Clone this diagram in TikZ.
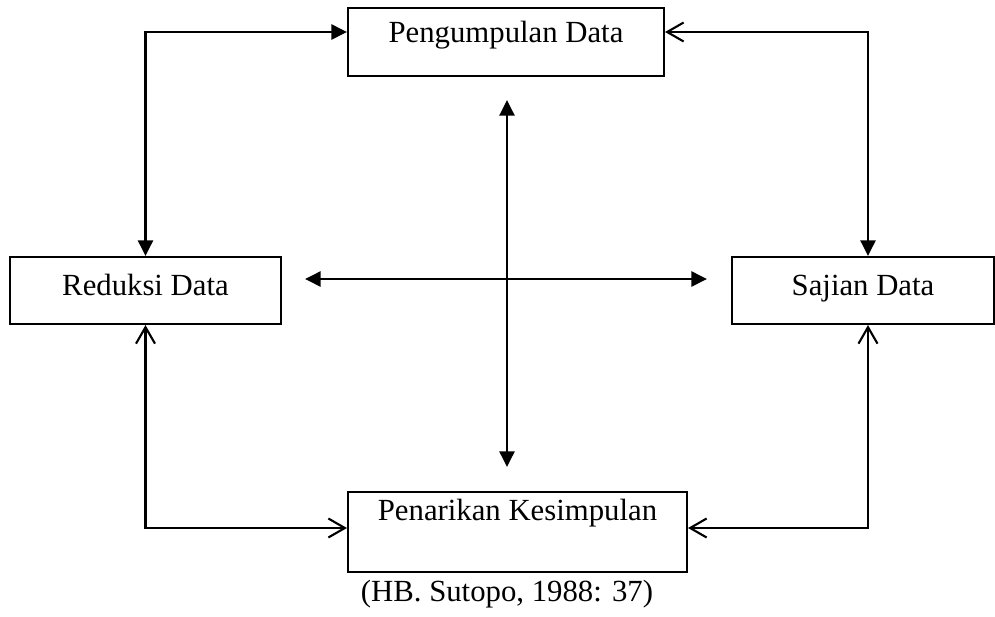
\documentclass[tikz,border=0pt]{standalone}
\usepackage{fontspec}
\setmainfont{Liberation Serif}
\usetikzlibrary{arrows.meta,calc}

\begin{document}
\begin{tikzpicture}[
  x=0.02cm,y=-0.02cm,
  line cap=round,
  box/.style={draw,line width=1.2pt,rectangle,inner xsep=0pt,inner ysep=0pt,
              font=\fontsize{17.5}{20}\selectfont},
  flow/.style={line width=1.2pt},
  fulltip/.tip={Triangle[length=0.31cm,width=0.3cm]},
  opentip/.tip={Straight Barb[length=0.33cm,width=0.38cm,line width=1.2pt]},
  lab/.style={font=\fontsize{17.5}{20}\selectfont}
]
\useasboundingbox (0,0) rectangle (995,616);

% ---- kotak tahapan ----
\node[box,minimum width=6.32cm,text height=0.68cm,text depth=0.68cm]
  (pd) at (506,42) {Pengumpulan Data};
\node[box,minimum width=5.42cm,text height=0.76cm,text depth=0.58cm]
  (rd) at (145.5,290.5) {Reduksi Data};
\node[box,minimum width=5.24cm,text height=0.76cm,text depth=0.58cm]
  (sd) at (863,290.5) {Sajian Data};
\node[box,minimum width=6.78cm,text height=0.56cm,text depth=1.04cm]
  (pk) at (517.5,532) {Penarikan Kesimpulan};
\node[lab] (src) at (507,594) {(HB. Sutopo, 1988: 37)};

% titik bantu
\coordinate (pdL) at ($(pd.west)+(0,-10)$);
\coordinate (pdR) at ($(pd.east)+(0,-10)$);
\coordinate (sdT) at ($(sd.north)+(5,0)$);
\coordinate (sdB) at ($(sd.south)+(5,0)$);
\coordinate (pkL) at ($(pk.west)+(0,-4)$);
\coordinate (pkR) at ($(pk.east)+(0,-4)$);
\coordinate (mid) at (507,279);

% ---- siklus luar ----
\draw[flow,fulltip-fulltip] (rd.north) |- (pdL);
\draw[flow,opentip-fulltip] (pdR) -| (sdT);
\draw[flow,opentip-opentip] (rd.south) |- (pkL);
\draw[flow,opentip-opentip] (sdB) |- (pkR);

% ---- silang tengah ----
\draw[flow,fulltip-fulltip]
  ($(mid |- pd.south)+(0,23)$) -- ($(mid |- pk.north)+(0,-24)$);
\draw[flow,fulltip-fulltip]
  ($(mid -| rd.east)+(23,0)$) -- ($(mid -| sd.west)+(-24,0)$);

\end{tikzpicture}
\end{document}
